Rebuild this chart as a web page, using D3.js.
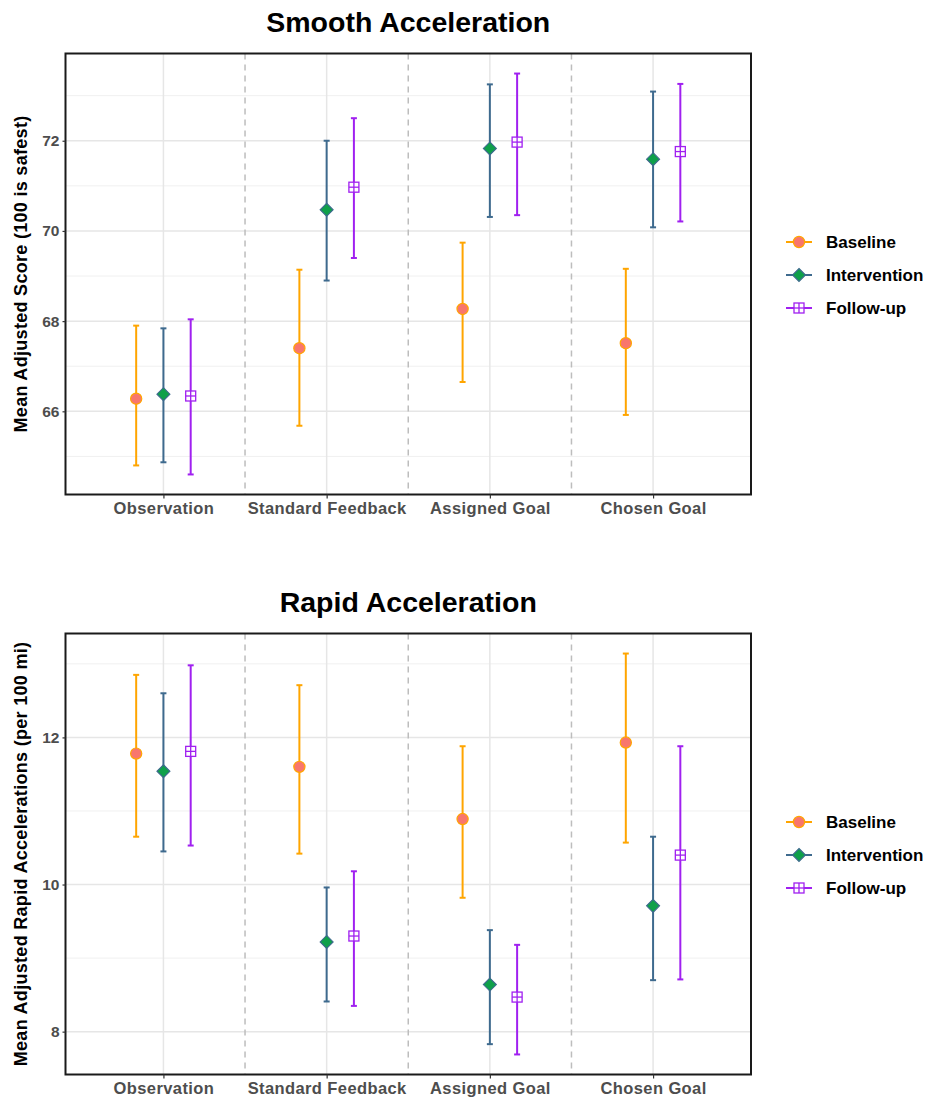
<!DOCTYPE html>
<html>
<head>
<meta charset="utf-8">
<script src="https://cdn.jsdelivr.net/npm/d3@7"></script>
<style>
  body { margin: 0; background: #fff; }
  svg { display: block; font-family: "Liberation Sans", Arial, Helvetica, sans-serif; }
</style>
</head>
<body>
<svg id="chart" width="926" height="1100"></svg>
<script>
// Conditions on the x axis, and the three measurement phases
const conditions = ["Observation", "Standard Feedback", "Assigned Goal", "Chosen Goal"];
const phases = ["Baseline", "Intervention", "Follow-up"];

// Smooth acceleration: mean adjusted score with lower/upper interval per phase
const smoothMean = {
  "Baseline":     [66.28, 67.40, 68.27, 67.51],
  "Intervention": [66.38, 70.47, 71.83, 71.59],
  "Follow-up":    [66.34, 70.97, 71.97, 71.76]
};
const smoothLow = {
  "Baseline":     [64.80, 65.68, 66.65, 65.92],
  "Intervention": [64.87, 68.90, 70.31, 70.08],
  "Follow-up":    [64.60, 69.40, 70.35, 70.21]
};
const smoothHigh = {
  "Baseline":     [67.90, 69.14, 69.74, 69.16],
  "Intervention": [67.84, 72.00, 73.25, 73.09],
  "Follow-up":    [68.04, 72.50, 73.49, 73.26]
};
const smoothTicks = [66, 68, 70, 72];

// Rapid acceleration: mean adjusted count per 100 mi with lower/upper interval
const rapidMean = {
  "Baseline":     [11.78, 11.60, 10.89, 11.93],
  "Intervention": [11.54, 9.22, 8.64, 9.71],
  "Follow-up":    [11.81, 9.30, 8.47, 10.40]
};
const rapidLow = {
  "Baseline":     [10.65, 10.42, 9.82, 10.57],
  "Intervention": [10.45, 8.41, 7.83, 8.70],
  "Follow-up":    [10.53, 8.35, 7.69, 8.71]
};
const rapidHigh = {
  "Baseline":     [12.85, 12.71, 11.88, 13.14],
  "Intervention": [12.60, 9.96, 9.38, 10.65],
  "Follow-up":    [12.98, 10.18, 9.18, 11.88]
};
const rapidTicks = [8, 10, 12];

// Styling per phase
const lineColor = { "Baseline": "#FFA500", "Intervention": "#3E6A8E", "Follow-up": "#A020F0" };
const fillColor = { "Baseline": "#F8766D", "Intervention": "#0FA04A", "Follow-up": "none" };
const dodge = { "Baseline": -1, "Intervention": 0, "Follow-up": 1 };

const svg = d3.select("#chart");
const margin = { left: 65.5, right: 751 };

function drawMarker(g, phase, x, y) {
  if (phase === "Baseline") {
    g.append("circle").attr("cx", x).attr("cy", y).attr("r", 5.6)
      .attr("fill", fillColor[phase]).attr("stroke", lineColor[phase]).attr("stroke-width", 1.2);
  } else if (phase === "Intervention") {
    const s = 6.5;
    g.append("path")
      .attr("d", `M${x},${y - s}L${x + s},${y}L${x},${y + s}L${x - s},${y}Z`)
      .attr("fill", fillColor[phase]).attr("stroke", lineColor[phase]).attr("stroke-width", 1.1);
  } else {
    const h = 5;
    g.append("rect").attr("x", x - h).attr("y", y - h).attr("width", 2 * h).attr("height", 2 * h)
      .attr("fill", "#fff").attr("stroke", lineColor[phase]).attr("stroke-width", 1.3);
    g.append("line").attr("x1", x - h).attr("x2", x + h).attr("y1", y).attr("y2", y)
      .attr("stroke", lineColor[phase]).attr("stroke-width", 1.3);
    g.append("line").attr("x1", x).attr("x2", x).attr("y1", y - h).attr("y2", y + h)
      .attr("stroke", lineColor[phase]).attr("stroke-width", 1.3);
  }
}

function drawPanel(cfg) {
  const { top, bottom, title, titleY, yTitle, mean, low, high, ticks, legendY } = cfg;
  const g = svg.append("g");

  // y domain from data range with 5% expansion on each side
  let lo = Infinity, hi = -Infinity;
  phases.forEach(p => { lo = Math.min(lo, d3.min(low[p])); hi = Math.max(hi, d3.max(high[p])); });
  const pad = (hi - lo) * 0.05;
  const y = d3.scaleLinear().domain([lo - pad, hi + pad]).range([bottom, top]);

  // discrete x positions: categories at 1..4, expanded by 0.6
  const xc = d3.scaleLinear().domain([0.4, conditions.length + 0.6]).range([margin.left, margin.right]);
  const dodgeW = 0.167;

  // minor grid
  const minor = [];
  for (let i = 0; i < ticks.length - 1; i++) minor.push((ticks[i] + ticks[i + 1]) / 2);
  minor.unshift(ticks[0] - (ticks[1] - ticks[0]) / 2);
  minor.push(ticks[ticks.length - 1] + (ticks[1] - ticks[0]) / 2);
  const [d0, d1] = y.domain();
  g.selectAll(".minor").data(minor.filter(v => v > d0 && v < d1)).join("line")
    .attr("x1", margin.left).attr("x2", margin.right)
    .attr("y1", d => y(d)).attr("y2", d => y(d))
    .attr("stroke", "#f0f0f0").attr("stroke-width", 1);

  // major grid
  g.selectAll(".major").data(ticks).join("line")
    .attr("x1", margin.left).attr("x2", margin.right)
    .attr("y1", d => y(d)).attr("y2", d => y(d))
    .attr("stroke", "#e6e6e6").attr("stroke-width", 1.5);
  g.selectAll(".vmajor").data(conditions).join("line")
    .attr("x1", (d, i) => xc(i + 1)).attr("x2", (d, i) => xc(i + 1))
    .attr("y1", top).attr("y2", bottom)
    .attr("stroke", "#e6e6e6").attr("stroke-width", 1.5);

  // dashed separators between conditions
  g.selectAll(".sep").data(d3.range(1, conditions.length)).join("line")
    .attr("x1", d => xc(d + 0.5)).attr("x2", d => xc(d + 0.5))
    .attr("y1", top).attr("y2", bottom)
    .attr("stroke", "#bdbdbd").attr("stroke-width", 1.5).attr("stroke-dasharray", "6,5");

  // error bars and points
  phases.forEach(p => {
    conditions.forEach((c, i) => {
      const x = xc(i + 1 + dodge[p] * dodgeW);
      const cap = 3;
      const col = lineColor[p];
      g.append("line").attr("x1", x).attr("x2", x)
        .attr("y1", y(low[p][i])).attr("y2", y(high[p][i]))
        .attr("stroke", col).attr("stroke-width", 2);
      [low[p][i], high[p][i]].forEach(v => {
        g.append("line").attr("x1", x - cap).attr("x2", x + cap)
          .attr("y1", y(v)).attr("y2", y(v))
          .attr("stroke", col).attr("stroke-width", 2);
      });
    });
  });
  phases.forEach(p => {
    conditions.forEach((c, i) => {
      drawMarker(g, p, xc(i + 1 + dodge[p] * dodgeW), y(mean[p][i]));
    });
  });

  // panel border
  g.append("rect").attr("x", margin.left).attr("y", top)
    .attr("width", margin.right - margin.left).attr("height", bottom - top)
    .attr("fill", "none").attr("stroke", "#1a1a1a").attr("stroke-width", 2);

  // y axis
  const yAxis = d3.axisLeft(y).tickValues(ticks).tickSize(3).tickPadding(3).tickFormat(d3.format("d"));
  const ya = g.append("g").attr("transform", `translate(${margin.left},0)`).call(yAxis);
  ya.select(".domain").remove();
  ya.selectAll(".tick line").attr("stroke", "#333").attr("stroke-width", 1.2);
  ya.selectAll(".tick text").attr("fill", "#4d4d4d").attr("font-size", 15.5).attr("font-weight", "bold")
    .attr("font-family", "Liberation Sans, Arial, sans-serif");

  // x axis
  const xb = d3.scalePoint().domain(conditions).range([xc(1), xc(conditions.length)]);
  const xAxis = d3.axisBottom(xb).tickSize(4).tickPadding(4);
  const xa = g.append("g").attr("transform", `translate(0,${bottom})`).call(xAxis);
  xa.select(".domain").remove();
  xa.selectAll(".tick line").attr("stroke", "#333").attr("stroke-width", 1.2);
  xa.selectAll(".tick text").attr("fill", "#4d4d4d").attr("font-size", 16.5).attr("font-weight", "bold")
    .attr("letter-spacing", "0.4px")
    .attr("font-family", "Liberation Sans, Arial, sans-serif");

  // titles
  g.append("text").attr("x", (margin.left + margin.right) / 2).attr("y", titleY)
    .attr("text-anchor", "middle").attr("font-size", 28.5).attr("font-weight", "bold")
    .attr("fill", "#000").text(title);
  g.append("text")
    .attr("transform", `translate(27,${(top + bottom) / 2}) rotate(-90)`)
    .attr("text-anchor", "middle").attr("font-size", 18).attr("font-weight", "bold")
    .attr("letter-spacing", "0.3px")
    .attr("fill", "#000").text(yTitle);

  // legend
  const lg = g.append("g");
  phases.forEach((p, k) => {
    const ly = legendY + k * 33;
    lg.append("line").attr("x1", 786).attr("x2", 812).attr("y1", ly).attr("y2", ly)
      .attr("stroke", lineColor[p]).attr("stroke-width", 2);
    drawMarker(lg, p, 799, ly);
    lg.append("text").attr("x", 826).attr("y", ly).attr("dy", "0.35em")
      .attr("font-size", 17).attr("font-weight", "bold").attr("fill", "#000").text(p);
  });
}

drawPanel({
  top: 53.5, bottom: 494.5, title: "Smooth Acceleration", titleY: 32,
  yTitle: "Mean Adjusted Score (100 is safest)",
  mean: smoothMean, low: smoothLow, high: smoothHigh, ticks: smoothTicks, legendY: 242
});
drawPanel({
  top: 633.5, bottom: 1074.5, title: "Rapid Acceleration", titleY: 612,
  yTitle: "Mean Adjusted Rapid Accelerations (per 100 mi)",
  mean: rapidMean, low: rapidLow, high: rapidHigh, ticks: rapidTicks, legendY: 822
});
</script>
</body>
</html>
